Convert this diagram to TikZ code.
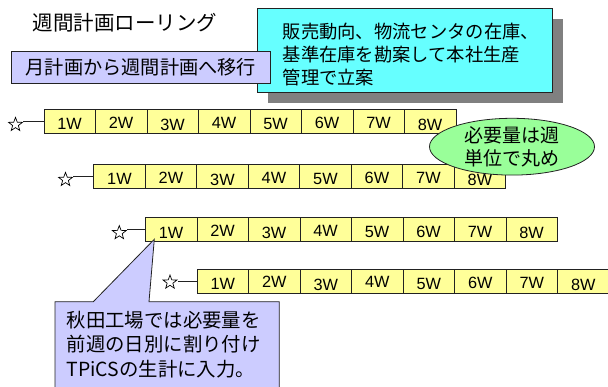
\documentclass[tikz,border=0pt]{standalone}
\usepackage{fontspec}
\usetikzlibrary{shapes.geometric,shadows}
\newfontfamily\jp{Noto Sans CJK JP}
\newfontfamily\lat{Liberation Sans}
\definecolor{cellyellow}{HTML}{FFFF99}
\definecolor{lavender}{HTML}{CCCCFF}
\definecolor{cyanbox}{HTML}{66FFFF}
\definecolor{greenell}{HTML}{99FF99}
\definecolor{shadowgray}{HTML}{808080}
\definecolor{edge}{HTML}{222222}
\tikzset{
  cell/.style={draw=edge, line width=0.8pt, fill=cellyellow, minimum width=51.5pt, minimum height=24pt,
    inner sep=0pt, anchor=north west, text height=11.6pt, text depth=0pt,
    font=\lat\fontsize{16.3pt}{16.3pt}\selectfont},
  starmark/.style={star, star points=5, star point ratio=2.4, minimum size=14.5pt, inner sep=0pt,
    draw=black, line width=0.7pt, fill=white},
  link/.style={draw=edge, line width=0.8pt},
  labelbox/.style={draw=edge, line width=0.8pt, fill=lavender},
}
\begin{document}
\begin{tikzpicture}[x=1pt,y=-1pt]
\useasboundingbox (0,0) rectangle (608,387);
% title
\node[font=\jp\fontsize{20.5pt}{20.5pt}\selectfont, inner sep=0pt] (title) at (125,23) {週間計画ローリング};
% cyan box with shadow
\node[draw=edge, line width=0.8pt, fill=cyanbox, minimum width=295.4pt, minimum height=84pt, inner sep=0pt,
  general shadow={fill=shadowgray, shadow xshift=10.5pt, shadow yshift=-10.5pt}] (plan) at (405,50.3) {};
\node[anchor=west, align=left, inner sep=0pt, font=\jp\fontsize{18.3pt}{23.3pt}\selectfont] (plantext) at (282.5,54.5)
  {販売動向、物流センタの在庫、\\基準在庫を勘案して本社生産\\管理で立案};
% month -> week box
\node[labelbox, minimum width=258.3pt, minimum height=31.6pt, inner sep=0pt,
  font=\jp\fontsize{19.2pt}{19.2pt}\selectfont] (shift) at (140.8,67.5) {月計画から週間計画へ移行};
% rows
\def\offs{{2.5,0.8,3,0.8,2,1.5,1.5,3}}
\newcommand\weekrow[5]{% #1 row id, #2 x0, #3 ytop, #4 star x, #5 star y
  \foreach \i in {1,...,8} {
    \pgfmathsetmacro\dd{\offs[\i-1]}
    \node[cell] (r#1c\i) at ({#2+(\i-1)*51.5},#3) {\raisebox{-\dd pt}{\i W}};
  }
  \node[starmark] (s#1) at (#4,#5) {};
  \draw[link] (s#1.outer point 5 |- r#1c1.west) -- (r#1c1.west);
}
\weekrow{1}{43.5}{109.3}{15.5}{124.6}
\weekrow{2}{93.3}{164.3}{65.5}{179.6}
% ellipse
\node[ellipse, draw=edge, line width=0.8pt, fill=greenell, minimum width=165pt, minimum height=56.6pt,
  inner sep=0pt, align=center, font=\jp\fontsize{19pt}{22.7pt}\selectfont] (round) at (512,146.7)
  {必要量は週\\単位で丸め};
\weekrow{3}{145}{217.5}{119.3}{232.8}
% callout
\coordinate (tip) at (154.3,239.3);
\draw[labelbox] (55,392) -- (55,301.7) -- (93.3,301.7) -- (tip) -- (149,301.7) -- (279.3,301.7) -- (279.3,392);
\node[anchor=west, align=left, inner sep=0pt, font=\jp\fontsize{19.4pt}{24.2pt}\selectfont] (note) at (66.5,344.5)
  {秋田工場では必要量を\\前週の日別に割り付け\\TPiCSの生計に入力。};
\weekrow{4}{196.7}{269}{170}{282.3}
\end{tikzpicture}
\end{document}
